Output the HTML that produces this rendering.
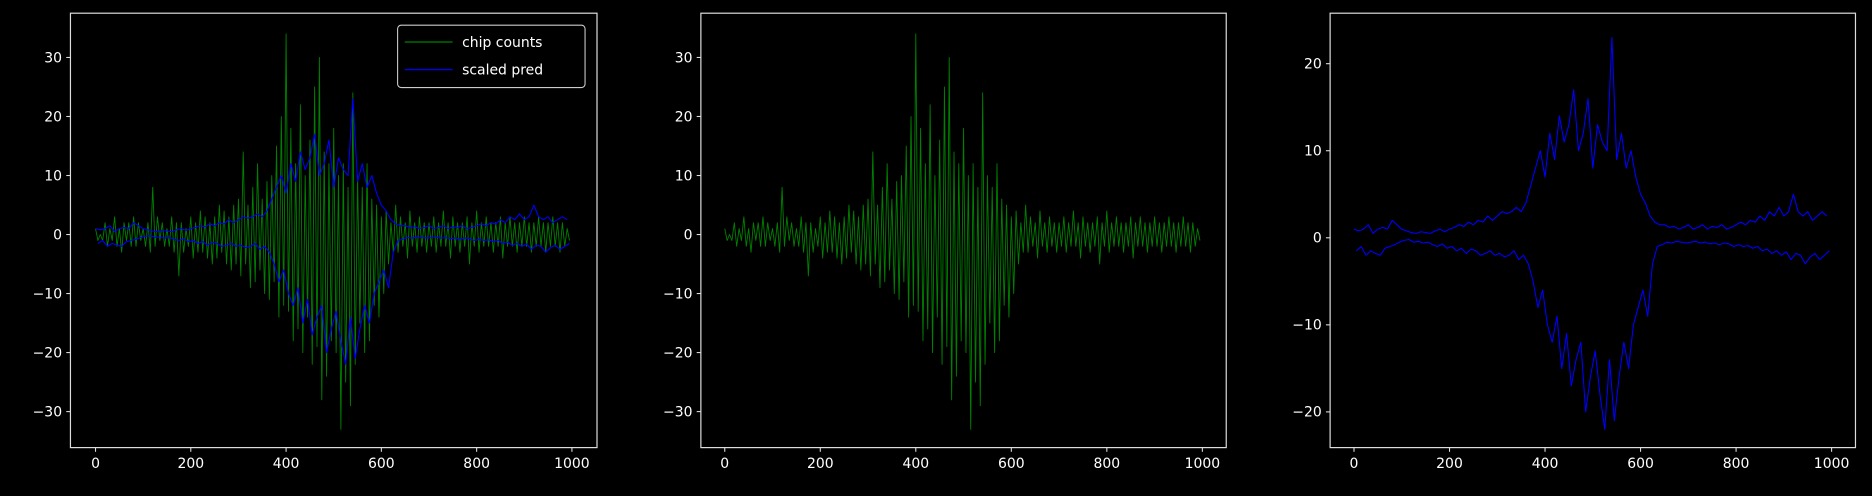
<!DOCTYPE html>
<html><head><meta charset="utf-8"><style>
html,body{margin:0;padding:0;background:#000;}
svg{display:block;font-family:"DejaVu Sans","Liberation Sans",sans-serif;}
</style></head><body>
<svg id="chart" width="1872" height="496" viewBox="0 0 1872 496" xmlns="http://www.w3.org/2000/svg">
<rect width="1872" height="496" fill="#000"/>
<g id="root" transform="scale(1.194 1.2)"></g>
</svg>
<script>
const chipPos=[1,0,2,1,3,1,2,2,3,2,1,2,8,3,2,1,3,2,2,1,3,2,4,3,2,3,5,4,3,5,6,14,5,8,12,6,9,10,15,20,34,18,12,22,10,16,25,30,14,12,18,10,12,8,24,10,8,12,6,5,3,4,2,5,3,2,4,2,3,2,2,3,2,4,2,3,2,2,3,2,4,2,3,2,2,3,2,3,2,2,3,2,2,3,2,2,3,2,2,1];
const chipNeg=[-1,-1,-2,-1,-2,-3,-1,-2,-2,-1,-2,-3,-2,-1,-2,-2,-3,-7,-3,-2,-4,-3,-3,-4,-5,-4,-3,-5,-6,-5,-7,-5,-9,-8,-6,-10,-11,-8,-14,-12,-13,-18,-16,-20,-14,-22,-19,-28,-24,-18,-20,-33,-25,-29,-22,-15,-20,-18,-12,-14,-10,-5,-3,-3,-2,-4,-2,-3,-2,-3,-2,-3,-2,-2,-4,-2,-3,-2,-5,-2,-3,-2,-2,-3,-2,-4,-2,-2,-3,-2,-2,-3,-2,-2,-3,-2,-2,-3,-2,-1];
const predPos=[1,0.8,1,1.5,0.5,1,1.2,1,2,1.5,1,0.8,0.6,0.5,0.7,0.6,0.5,0.8,1,0.7,1,1.2,1.5,1.3,1.8,1.5,2,1.8,2.5,2,2.5,3,2.8,3,3.5,3,4,6,8,10,7,12,9,14,11,13,17,10,12,16,8,13,11,10,23,9,12,8,10,7,5,4,2.5,1.8,1.5,1.5,1.2,1.3,1,1.2,1.5,1,1.2,1.5,1,1.3,1.2,1.5,1,1.2,1.5,1.8,1.5,2,1.8,2.5,2,3,2.5,3.5,2.5,3,5,3,2.5,3,2,2.5,3,2.5];
const predNeg=[-1.5,-1,-2,-1.5,-1.8,-2,-1.2,-1,-0.8,-0.5,-0.3,-0.2,-0.5,-0.4,-0.6,-0.5,-0.8,-1,-0.7,-1.2,-1,-1.5,-1.2,-1.8,-1.3,-1.5,-2,-1.8,-1.5,-2,-1.8,-2.2,-2,-1.5,-2.5,-2,-3,-5,-8,-6,-10,-12,-9,-15,-11,-17,-14,-12,-20,-16,-13,-18,-22,-14,-21,-16,-12,-15,-10,-8,-6,-9,-3,-1,-0.8,-0.5,-0.6,-0.4,-0.5,-0.6,-0.5,-0.4,-0.6,-0.5,-0.7,-0.6,-0.8,-0.6,-0.7,-1,-0.8,-1,-0.9,-1.2,-1,-1.5,-1.3,-1.8,-1.5,-2,-1.6,-2.5,-1.8,-2,-3,-2.2,-1.8,-2.5,-2,-1.5];
const xTicks=[0,200,400,600,800,1000];
const yTicksA=[-30,-20,-10,0,10,20,30];
const yTicksC=[-20,-10,0,10,20];

const NS="http://www.w3.org/2000/svg";
const root=document.getElementById('root');
function mk(tag,attrs,parent){const e=document.createElementNS(NS,tag);for(const k in attrs)e.setAttribute(k,attrs[k]);(parent||root).appendChild(e);return e;}
function interleave(p,n){const out=[];for(let i=0;i<p.length;i++){out.push([i*10,p[i]]);out.push([i*10+5,n[i]]);}return out;}
function fmt(t){return t<0?'\u2212'+Math.abs(t):String(t);}

const panels=[
 {name:'panel-combined',L:59,R:500,T:11,B:373,px0:80,px1:479,ymin:-36.1,ymax:37.5,yt:yTicksA,series:[['chip-counts-line','#008000',chipPos,chipNeg,true],['scaled-pred-line','#0000ff',predPos,predNeg,false]]},
 {name:'panel-chip-counts',L:587,R:1027,T:11,B:373,px0:607,px1:1007,ymin:-36.1,ymax:37.5,yt:yTicksA,series:[['chip-counts-line','#008000',chipPos,chipNeg,true]]},
 {name:'panel-scaled-pred',L:1114,R:1554,T:11,B:373,px0:1134,px1:1534,ymin:-24.1,ymax:25.8,yt:yTicksC,series:[['scaled-pred-line','#0000ff',predPos,predNeg,false]]}
];
panels.forEach(p=>{
 const g=mk('g',{});
 
 
 const xs=v=>p.px0+v/1000*(p.px1-p.px0);
 const ys=v=>p.B-(v-p.ymin)/(p.ymax-p.ymin)*(p.B-p.T);
 p.series.forEach(s=>{
  if(s[4]){
   const pts=interleave(s[2],s[3]).map(d=>xs(d[0]).toFixed(1)+','+ys(d[1]).toFixed(1)).join(' ');
   const pl=mk('polyline',{points:pts,fill:'none',stroke:s[1],'stroke-width':0.75,'stroke-linejoin':'round'},g);
   
   
  } else {
   [s[2],s[3]].forEach((arr,k)=>{
    const pts=arr.map((v,i)=>xs(i*10+k*5).toFixed(1)+','+ys(v).toFixed(1)).join(' ');
    const pl=mk('polyline',{points:pts,fill:'none',stroke:s[1],'stroke-width':0.9,'stroke-linejoin':'round'},g);
    
    
   });
  }
 });
 const fr=mk('rect',{x:p.L,y:p.T,width:p.R-p.L,height:p.B-p.T,fill:'none',stroke:'#ddd','stroke-width':1},g);
 
 
 xTicks.forEach(t=>{
  const x=xs(t);
  mk('line',{x1:x,x2:x,y1:p.B,y2:p.B+3.5,stroke:'#ddd','stroke-width':0.9},g);
  const tx=mk('text',{x:x,y:p.B+17,fill:'#fff','font-size':11.7,'text-anchor':'middle'},g);
  tx.textContent=fmt(t);
  
  
 });
 p.yt.forEach(t=>{
  const y=ys(t);
  mk('line',{x1:p.L-3.5,x2:p.L,y1:y,y2:y,stroke:'#ddd','stroke-width':0.9},g);
  const tx=mk('text',{x:p.L-7,y:y+4,fill:'#fff','font-size':11.7,'text-anchor':'end'},g);
  tx.textContent=fmt(t);
  
  
 });
});
const lg=mk('g',{});


mk('rect',{x:333,y:21,width:157,height:52,rx:3,fill:'#000',stroke:'#ccc','stroke-width':0.9},lg);
[['chip counts','#008000',35],['scaled pred','#0000ff',58]].forEach(e=>{
 const eg=mk('g',{},lg);
 
 
 mk('line',{x1:339,x2:379,y1:e[2],y2:e[2],stroke:e[1],'stroke-width':1},eg);
 const t=mk('text',{x:387,y:e[2]+4,fill:'#fff','font-size':11.7},eg);
 t.textContent=e[0];
});
</script>
</body></html>
